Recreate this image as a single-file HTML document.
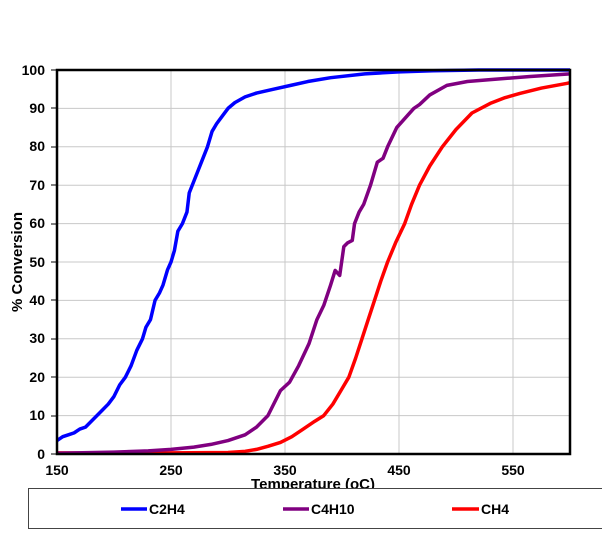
<!DOCTYPE html>
<html><head><meta charset="utf-8"><style>
html,body{margin:0;padding:0;background:#fff;}
svg{display:block;font-family:"Liberation Sans",Arial,sans-serif;font-weight:bold;}
</style></head><body>
<svg width="602" height="548" viewBox="0 0 602 548" xmlns="http://www.w3.org/2000/svg">
<rect width="602" height="548" fill="#fff"/>
<g stroke="#c8c8c8" stroke-width="1">
<line x1="171" y1="70" x2="171" y2="454"/><line x1="285" y1="70" x2="285" y2="454"/>
<line x1="399" y1="70" x2="399" y2="454"/><line x1="513" y1="70" x2="513" y2="454"/>
<line x1="57" y1="108.4" x2="570" y2="108.4"/><line x1="57" y1="146.8" x2="570" y2="146.8"/>
<line x1="57" y1="185.2" x2="570" y2="185.2"/><line x1="57" y1="223.6" x2="570" y2="223.6"/>
<line x1="57" y1="262" x2="570" y2="262"/><line x1="57" y1="300.4" x2="570" y2="300.4"/>
<line x1="57" y1="338.8" x2="570" y2="338.8"/><line x1="57" y1="377.2" x2="570" y2="377.2"/>
<line x1="57" y1="415.6" x2="570" y2="415.6"/>
</g>
<g transform="translate(57,454) scale(1.14,-3.84) translate(-150,0)" fill="none" stroke-width="3.5" stroke-linejoin="round">
<polyline vector-effect="non-scaling-stroke" stroke="#ff0000" points="150,0.3 200,0.2 250,0.3 300,0.4 315,0.7 325,1.2 335,2 346,3 356,4.5 366,6.5 376,8.5 384,10 392,13 400,17 406,20 412,25 417.5,30 423,35 428.5,40 434,45 440,50 447,55 455,60 461,65 468,70 477,75 488,80 500,84.5 514,88.8 530,91.3 543,92.8 556,93.9 575,95.3 597,96.5 600,96.7"/>
<polyline vector-effect="non-scaling-stroke" stroke="#800080" points="150,0.2 200,0.5 230,0.8 250,1.2 270,1.8 285,2.5 300,3.5 315,5 325,7 335,10 346,16.5 354,18.7 362,23 371,28.7 378,35 384,38.7 390,44 394,47.8 398,46.5 401.6,54 405,55 409,55.6 411,60 415,63 419,65 425,70 431,76 436,77 440,80 448,85 457,88 463,90 468,91 477,93.5 492,96 510,97 530,97.5 565,98.3 600,99"/>
<polyline vector-effect="non-scaling-stroke" stroke="#0000ff" points="150,3.5 155,4.5 160,5 165,5.5 170,6.5 175,7 180,8.5 185,10 190,11.5 195,13 200,15 205,18 210,20 215,23 220,27 225,30 228,33 232,35 236,40 240,42 243,44 247,48 250,50 253,53 256,58 260,60 264,63 266,68 270,71 274,74 278,77 282,80 286,84 290,86 295,88 300,90 306,91.5 315,93 325,94 340,95 355,96 370,97 390,98 420,99 450,99.5 480,99.8 520,100 600,100"/>
</g>
<rect x="57" y="70" width="513" height="384" fill="none" stroke="#000" stroke-width="2.5"/>
<g font-size="14" fill="#000" text-anchor="end">
<text x="45" y="75">100</text><text x="45" y="113">90</text><text x="45" y="151">80</text>
<text x="45" y="190">70</text><text x="45" y="228">60</text><text x="45" y="267">50</text>
<text x="45" y="305">40</text><text x="45" y="343">30</text><text x="45" y="382">20</text>
<text x="45" y="420">10</text><text x="45" y="459">0</text>
</g>
<g stroke="#000" stroke-width="1"><line x1="51" y1="70" x2="57" y2="70"/><line x1="51" y1="108" x2="57" y2="108"/><line x1="51" y1="147" x2="57" y2="147"/><line x1="51" y1="185" x2="57" y2="185"/><line x1="51" y1="224" x2="57" y2="224"/><line x1="51" y1="262" x2="57" y2="262"/><line x1="51" y1="300" x2="57" y2="300"/><line x1="51" y1="339" x2="57" y2="339"/><line x1="51" y1="377" x2="57" y2="377"/><line x1="51" y1="416" x2="57" y2="416"/><line x1="51" y1="454" x2="57" y2="454"/></g>
<g font-size="14" fill="#000" text-anchor="middle">
<text x="57" y="475">150</text><text x="171" y="475">250</text><text x="285" y="475">350</text>
<text x="399" y="475">450</text><text x="513" y="475">550</text>
<text x="313" y="489" font-size="15">Temperature (oC)</text>
<text transform="translate(22,262) rotate(-90)" font-size="15">% Conversion</text>
</g>
<rect x="28.5" y="488.5" width="580" height="40" fill="#fff" stroke="#444" stroke-width="1"/>
<g stroke-width="3.5">
<line x1="121" y1="509" x2="147" y2="509" stroke="#0000ff"/>
<line x1="283" y1="509" x2="309" y2="509" stroke="#800080"/>
<line x1="452" y1="509" x2="479" y2="509" stroke="#ff0000"/>
</g>
<g font-size="14" fill="#000">
<text x="149" y="514">C2H4</text><text x="311" y="514">C4H10</text><text x="481" y="514">CH4</text>
</g>
</svg>
</body></html>
